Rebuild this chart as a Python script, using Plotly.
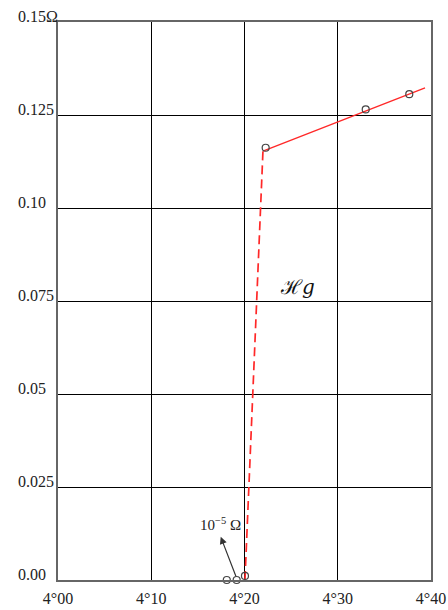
import plotly.graph_objects as go

# Measured points (temperature in K, resistance in ohm)
temps = [4.181, 4.1916, 4.2005, 4.2227, 4.330, 4.3767]
resist = [0.0, 0.0, 0.0011, 0.1162, 0.1265, 0.1306]

# Red guide lines
dash_x = [4.2005, 4.2198]
dash_y = [0.0, 0.1153]
solid_x = [4.2198, 4.3936]
solid_y = [0.1153, 0.1323]

x_ticks = [4.0, 4.1, 4.2, 4.3, 4.4]
x_labels = ["4°00", "4°10", "4°20", "4°30", "4°40"]
y_ticks = [0.0, 0.025, 0.05, 0.075, 0.10, 0.125, 0.15]
y_labels = ["0.00", "0.025", "0.05", "0.075", "0.10", "0.125", "0.15Ω"]

serif = "Liberation Serif, Times New Roman, serif"

fig = go.Figure()
fig.add_trace(go.Scatter(x=dash_x, y=dash_y, mode="lines",
                         line=dict(color="#ff2828", width=1.7, dash="9px,5px"),
                         hoverinfo="skip", cliponaxis=False))
fig.add_trace(go.Scatter(x=solid_x, y=solid_y, mode="lines",
                         line=dict(color="#ff2828", width=1.3),
                         hoverinfo="skip", cliponaxis=False))
fig.add_trace(go.Scatter(x=temps, y=resist, mode="markers",
                         marker=dict(symbol="circle-open", size=7,
                                     color="#444444", line=dict(width=1.2)),
                         cliponaxis=False))

annotations = []
for v, t in zip(y_ticks, y_labels):
    annotations.append(dict(xref="paper", x=0, xshift=-42, xanchor="left",
                            yref="y", y=v, yshift=6, yanchor="middle",
                            text=t, showarrow=False,
                            font=dict(family=serif, size=16, color="#222")))

# arrow to 10^-5 ohm
annotations.append(dict(x=4.1745, y=0.0116, xref="x", yref="y",
                        ax=4.1914, ay=0.0006, axref="x", ayref="y",
                        text="", showarrow=True, arrowhead=2, arrowsize=1.2,
                        arrowwidth=1.2, arrowcolor="#333"))
annotations.append(dict(x=4.1745, y=0.0151, xref="x", yref="y",
                        text="10<sup>−5</sup> Ω", showarrow=False,
                        font=dict(family=serif, size=15, color="#222")))
annotations.append(dict(x=4.257, y=0.0788, xref="x", yref="y",
                        text="ℋ<i>g</i>", showarrow=False,
                        font=dict(family="DejaVu Serif, serif", size=20, color="#111")))

fig.update_layout(
    width=448, height=610,
    margin=dict(l=58, r=17, t=22, b=30, autoexpand=False),
    paper_bgcolor="white", plot_bgcolor="white",
    showlegend=False,
    annotations=annotations,
    xaxis=dict(range=[4.0, 4.4], tickvals=x_ticks, ticktext=x_labels,
               showgrid=True, gridcolor="#000", gridwidth=1,
               showline=True, linecolor="#666", linewidth=2, mirror=True,
               zeroline=False, ticks="", ticklen=0, automargin=False,
               ticklabelstandoff=3,
               tickfont=dict(family=serif, size=16, color="#222")),
    yaxis=dict(range=[0.0, 0.15], tickvals=y_ticks, showticklabels=False,
               showgrid=True, gridcolor="#000", gridwidth=1,
               showline=True, linecolor="#666", linewidth=2, mirror=True,
               zeroline=False, ticks="", automargin=False),
)

fig.write_html("out.html",
               config={"displayModeBar": False},
               post_script="document.body.style.margin='0';document.body.style.overflow='hidden';")
